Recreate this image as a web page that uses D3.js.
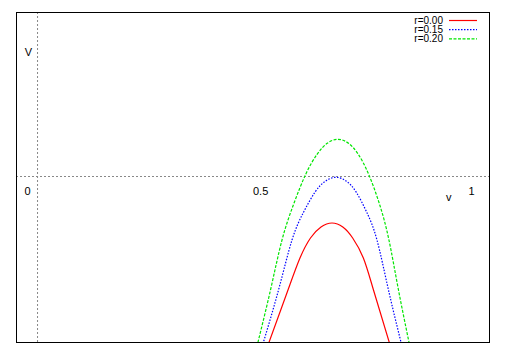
<!DOCTYPE html>
<html><head><meta charset="utf-8">
<script src="https://cdn.jsdelivr.net/npm/d3@7"></script>
<style>body{margin:0;background:#fff;} text{font-family:"Liberation Sans",Arial,sans-serif;}</style>
</head><body>
<svg id="c" width="506" height="354"></svg>
<script>
// data (v, V)
const seriesNames = ["r=0.00", "r=0.15", "r=0.20"];
const red = [[0.5332,-1.0302],[0.5812,-0.6858],[0.6090,-0.4924],[0.6334,-0.3716],[0.6578,-0.3051],[0.6833,-0.2810],[0.7084,-0.3051],[0.7313,-0.3716],[0.7561,-0.4924],[0.7796,-0.6858],[0.8195,-1.0302]];
const blue = [[0.5209,-1.0302],[0.5592,-0.6858],[0.5905,-0.3837],[0.6172,-0.2163],[0.6436,-0.0955],[0.6675,-0.0290],[0.6926,-0.0048],[0.7172,-0.0290],[0.7397,-0.0955],[0.7640,-0.2163],[0.7877,-0.3837],[0.8144,-0.6858],[0.8462,-1.0302]];
const green = [[0.5088,-1.0302],[0.5406,-0.6858],[0.5673,-0.3837],[0.5942,-0.1680],[0.6223,0.0133],[0.6487,0.1341],[0.6722,0.2006],[0.6972,0.2248],[0.7218,0.2006],[0.7443,0.1341],[0.7684,0.0133],[0.7937,-0.1680],[0.8155,-0.3837],[0.8376,-0.6858],[0.8643,-1.0302]];
const xTickValues = [0, 0.5, 1];
const xTickLabels = ["0", "0.5", "1"];
const xDomain = [-0.05, 1.05];
const yDomain = [-1, 1];

const svg = d3.select("#c");
const L = 16, R = 490, T = 12, B = 342;
const x = d3.scaleLinear().domain(xDomain).range([L, R]);
const y = d3.scaleLinear().domain(yDomain).range([B, T - 1]);

svg.append("clipPath").attr("id","clip").append("rect")
  .attr("x", L).attr("y", T).attr("width", R - L).attr("height", B - T);

// zero axes
svg.append("line").attr("x1", L).attr("x2", R).attr("y1", y(0)).attr("y2", y(0))
  .attr("stroke", "#888").attr("stroke-width", 1).attr("stroke-dasharray", "2,2");
svg.append("line").attr("x1", x(0)).attr("x2", x(0)).attr("y1", T).attr("y2", B)
  .attr("stroke", "#888").attr("stroke-width", 1).attr("stroke-dasharray", "2,2");

// tick labels
xTickValues.forEach((v, i) => {
  const t = svg.append("text").attr("y", y(0) + 18).attr("font-size", 11).attr("fill", "#000").text(xTickLabels[i]);
  if (v === 0) t.attr("x", x(v) - 7).attr("text-anchor", "end");
  else t.attr("x", x(v)).attr("text-anchor", "start");
});
svg.append("text").attr("x", x(0.954)).attr("y", y(0) + 24).attr("font-size", 11).attr("text-anchor","middle").text("v");
svg.append("text").attr("x", x(0) - 9).attr("y", 56).attr("font-size", 11).attr("text-anchor","middle").text("V");

const line = d3.line().x(d => x(d[0])).y(d => y(d[1])).curve(d3.curveNatural);
const styles = [
  {data: red, color: "#ff0000", dash: null},
  {data: blue, color: "#0000ff", dash: "1.5,1.5"},
  {data: green, color: "#00e600", dash: "3,1.5"}
];
const g = svg.append("g").attr("clip-path", "url(#clip)");
styles.forEach(s => {
  g.append("path").attr("d", line(s.data)).attr("fill", "none")
    .attr("stroke", s.color).attr("stroke-width", 1.2)
    .attr("stroke-dasharray", s.dash);
});

// legend
styles.forEach((s, i) => {
  const ly = 20.5 + i * 9.2;
  svg.append("text").attr("x", 443).attr("y", ly + 3.5).attr("font-size", 10).attr("text-anchor", "end").text(seriesNames[i]);
  svg.append("line").attr("x1", 449).attr("x2", 477).attr("y1", ly).attr("y2", ly)
    .attr("stroke", s.color).attr("stroke-width", 1.2).attr("stroke-dasharray", s.dash);
});

// border
svg.append("rect").attr("x", L + 0.5).attr("y", T + 0.5).attr("width", R - L - 1).attr("height", B - T)
  .attr("fill", "none").attr("stroke", "#000").attr("stroke-width", 1);
</script>
</body></html>
